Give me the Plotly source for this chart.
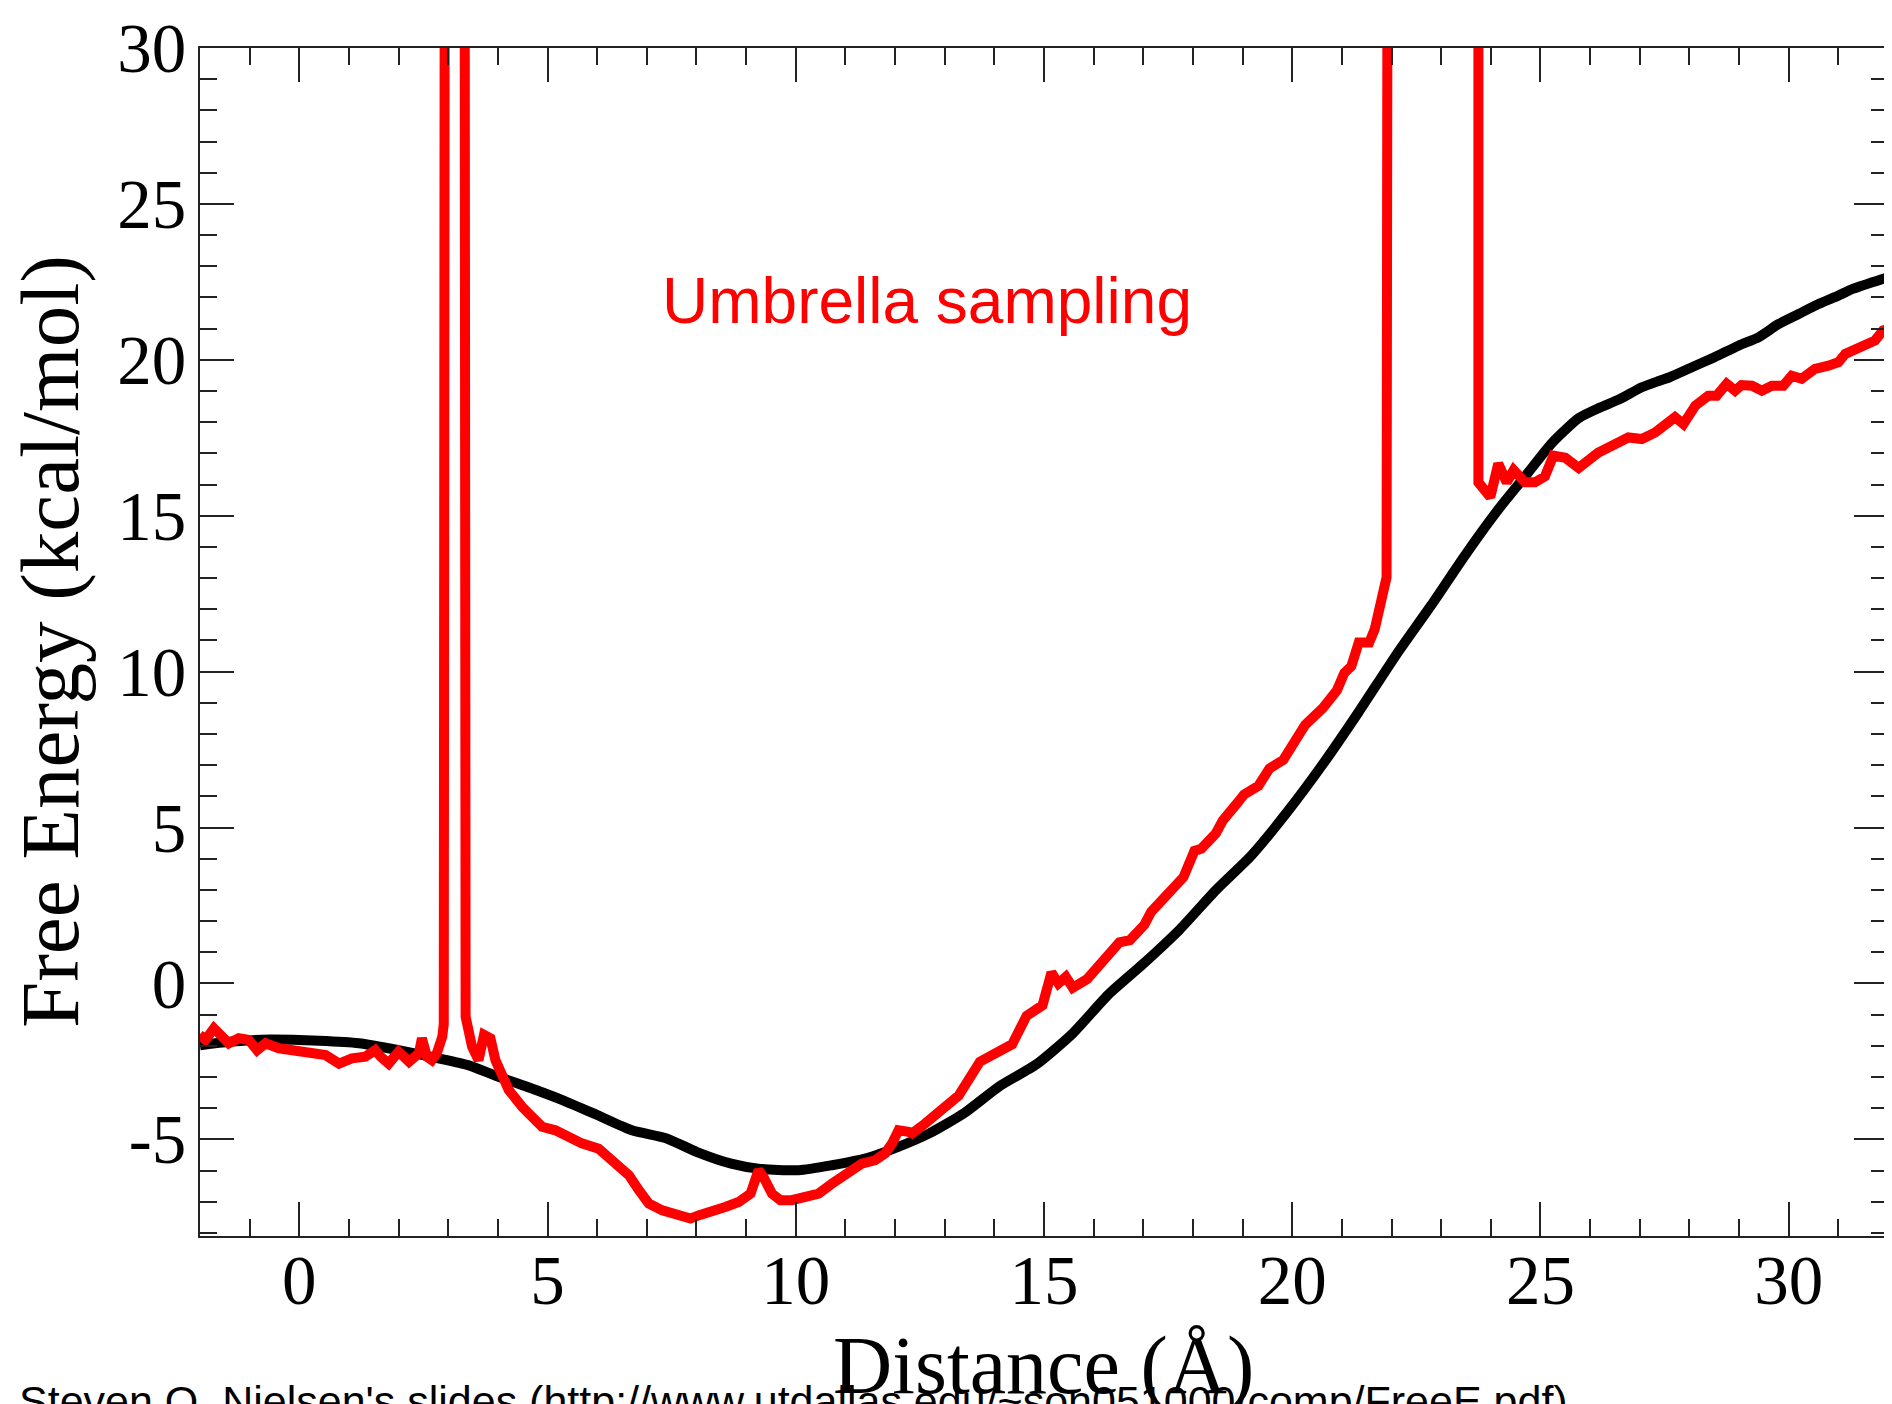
import plotly.graph_objects as go

# ---- data ----
ref_x = [-2.0, -1.4, -0.6, 0.4, 1.2, 2.0, 2.8, 3.4, 4.0, 4.6, 5.3, 6.0, 6.7, 7.4, 8.0, 8.7,
         9.25, 10.06, 10.73, 11.4, 12.05, 12.7, 13.4, 14.1, 14.86, 15.58, 16.3, 17.0, 17.74,
         18.46, 19.18, 19.9, 20.62, 21.34, 22.1, 22.8, 23.48, 24.15, 24.69, 25.23, 25.77,
         26.17, 26.6, 27.04, 27.4, 27.6, 28.05, 28.5, 29.0, 29.4, 29.8, 30.2, 30.6, 31.0,
         31.3, 31.9, 32.0]
ref_y = [-1.98, -1.87, -1.80, -1.84, -1.92, -2.14, -2.40, -2.62, -2.99, -3.32, -3.74, -4.22,
         -4.71, -4.97, -5.40, -5.78, -5.94, -5.99, -5.83, -5.62, -5.25, -4.80, -4.15, -3.30,
         -2.58, -1.60, -0.35, 0.63, 1.74, 2.99, 4.11, 5.50, 7.04, 8.71, 10.55, 12.13, 13.73,
         15.20, 16.26, 17.33, 18.13, 18.45, 18.74, 19.12, 19.33, 19.44, 19.76, 20.08, 20.46,
         20.73, 21.15, 21.47, 21.79, 22.06, 22.28, 22.60, 22.65]

umb_x = [-2.01, -1.89, -1.72, -1.55, -1.42, -1.22, -1.02, -0.85, -0.68, -0.41, -0.01, 0.26,
         0.53, 0.80, 1.06, 1.33, 1.53, 1.64, 1.80, 2.00, 2.21, 2.41, 2.47, 2.57, 2.67, 2.77,
         2.88, 2.91, 2.91, 2.93, 2.93, 3.33, 3.33, 3.35, 3.35, 3.48, 3.61, 3.72, 3.85, 3.95,
         4.05, 4.22, 4.49, 4.69, 4.89, 5.16, 5.43, 5.69, 6.03, 6.30, 6.64, 6.84, 7.04, 7.31,
         7.58, 7.88, 8.04, 8.31, 8.58, 8.85, 9.09, 9.25, 9.35, 9.52, 9.69, 9.92, 10.19, 10.46,
         10.73, 11.0, 11.20, 11.33, 11.60, 11.80, 11.94, 12.07, 12.27, 12.34, 12.61, 12.88,
         13.08, 13.28, 13.71, 14.0, 14.36, 14.65, 14.97, 15.15, 15.29, 15.44, 15.58, 15.87,
         16.16, 16.52, 16.73, 17.02, 17.16, 17.52, 17.81, 18.03, 18.17, 18.46, 18.60, 18.89,
         19.03, 19.32, 19.54, 19.82, 20.04, 20.26, 20.62, 20.90, 21.05, 21.19, 21.34, 21.55,
         21.66, 21.77, 21.84, 21.90, 21.92, 23.75, 23.75, 23.99, 24.15, 24.32, 24.46, 24.69,
         24.89, 25.09, 25.26, 25.50, 25.77, 25.97, 26.16, 26.77, 27.04, 27.31, 27.58, 27.71,
         27.88, 28.12, 28.38, 28.55, 28.75, 28.92, 29.05, 29.26, 29.46, 29.66, 29.89, 30.06,
         30.26, 30.53, 30.80, 31.0, 31.14, 31.34, 31.54, 31.74, 31.9, 32.0]
umb_y = [-1.65, -1.81, -1.44, -1.71, -1.92, -1.76, -1.81, -2.14, -1.92, -2.08, -2.19, -2.19,
         -2.30, -2.57, -2.40, -2.35, -2.14, -2.35, -2.57, -2.19, -2.51, -2.24, -1.76, -2.35,
         -2.46, -2.24, -1.71, -1.3, 17.6, 17.8, 35.0, 35.0, 27.8, 27.6, -1.07, -2.03, -2.46,
         -1.65, -1.76, -2.46, -2.78, -3.42, -3.96, -4.28, -4.60, -4.71, -4.92, -5.13, -5.30,
         -5.67, -6.15, -6.63, -7.06, -7.28, -7.44, -7.54, -7.44, -7.33, -7.17, -7.01, -6.74,
         -5.99, -6.21, -6.74, -6.95, -6.95, -6.85, -6.74, -6.42, -6.10, -5.94, -5.78, -5.67,
         -5.45, -5.13, -4.71, -4.76, -4.81, -4.49, -4.17, -3.90, -3.60, -2.51, -2.23, -1.95,
         -1.04, -0.70, 0.35, 0.0, 0.21, -0.14, 0.14, 0.70, 1.32, 1.39, 1.88, 2.30, 2.86, 3.41,
         4.25, 4.32, 4.81, 5.22, 5.78, 6.06, 6.34, 6.89, 7.17, 7.73, 8.29, 8.84, 9.40, 9.96,
         10.17, 10.93, 10.93, 11.35, 12.05, 12.75, 13.02, 35.0, 35.0, 16.07, 15.6, 16.67,
         16.07, 16.46, 16.07, 16.07, 16.26, 16.93, 16.86, 16.53, 16.80, 17.02, 17.51, 17.46,
         17.67, 17.94, 18.16, 17.94, 18.53, 18.85, 18.85, 19.23, 19.01, 19.19, 19.17, 19.01,
         19.17, 19.17, 19.49, 19.39, 19.71, 19.81, 19.92, 20.19, 20.35, 20.46, 20.62, 20.94,
         21.0]

x_tickvals = [0, 5, 10, 15, 20, 25, 30]
x_ticktext = ["0", "5", "10", "15", "20", "25", "30"]
y_tickvals = [-5, 0, 5, 10, 15, 20, 25, 30]
y_ticktext = ["-5", "0", "5", "10", "15", "20", "25", "30"]

x_title = "Distance (Å)"
y_title = "Free Energy (kcal/mol)"
label_text = "Umbrella sampling"
source_text = "Steven O. Nielsen's slides (http://www.utdallas.edu/~son051000/comp/FreeE.pdf)"

# The page body has an 8px default margin: the figure is made 8px smaller so that
# the plot lands at the same screen pixels as the reference.
OFF = 8
W, H = 1892 - OFF, 1404 - OFF
ML, MR, MT, MB = 200 - OFF, 4, 48 - OFF, 168
PW, PH = W - ML - MR, H - MT - MB

serif = "Liberation Serif, Times New Roman, serif"
sans = "Liberation Sans, Arial, sans-serif"

fig = go.Figure()
fig.add_trace(go.Scatter(x=ref_x, y=ref_y, mode="lines",
                         line=dict(color="#000000", width=10, shape="spline", smoothing=0.6),
                         showlegend=False))
fig.add_trace(go.Scatter(x=umb_x, y=umb_y, mode="lines",
                         line=dict(color="#ff0000", width=10), showlegend=False))

axis_common = dict(
    showgrid=False, zeroline=False, showline=True, linecolor="#222222", linewidth=2,
    mirror="ticks", ticks="inside", ticklen=34, tickwidth=2, tickcolor="#222222",
    tickfont=dict(family=serif, size=69, color="#000000"),
)

fig.update_xaxes(range=[-2, 32], tickmode="array", tickvals=x_tickvals, ticktext=x_ticktext,
                 minor=dict(dtick=1, tick0=0, ticks="inside", ticklen=17, tickwidth=2,
                            tickcolor="#222222", showgrid=False),
                 ticklabelstandoff=-17, **axis_common)
fig.update_yaxes(range=[-8.1, 30], tickmode="array", tickvals=y_tickvals, ticktext=y_ticktext,
                 minor=dict(dtick=1, tick0=0, ticks="inside", ticklen=17, tickwidth=2,
                            tickcolor="#222222", showgrid=False),
                 ticklabelstandoff=-2, **axis_common)

# screen pixel (in the reference picture) -> paper coordinates
def px_to_paper_x(px):
    return (px - OFF - ML) / PW

def px_to_paper_y(py):
    return (H - MB - (py - OFF)) / PH

fig.add_annotation(text=y_title, textangle=-90, showarrow=False,
                   xref="paper", yref="paper", x=px_to_paper_x(50), y=px_to_paper_y(642),
                   xanchor="center", yanchor="middle",
                   font=dict(family=serif, size=83, color="#000000"))
fig.add_annotation(text=x_title, showarrow=False,
                   xref="paper", yref="paper", x=px_to_paper_x(1043), y=px_to_paper_y(1365),
                   xanchor="center", yanchor="middle",
                   font=dict(family=serif, size=82, color="#000000"))
fig.add_annotation(text=source_text, showarrow=False,
                   xref="paper", yref="paper", x=px_to_paper_x(17), y=px_to_paper_y(1401),
                   xanchor="left", yanchor="middle",
                   font=dict(family=sans, size=43, color="#000000"))
fig.add_annotation(text=label_text, showarrow=False,
                   xref="paper", yref="paper", x=px_to_paper_x(927), y=px_to_paper_y(301),
                   xanchor="center", yanchor="middle",
                   font=dict(family=sans, size=64, color="#ff0000"))

fig.update_layout(width=W, height=H, margin=dict(l=ML, r=MR, t=MT, b=MB, autoexpand=False),
                  paper_bgcolor="white", plot_bgcolor="white")

fig.write_html("out.html")
